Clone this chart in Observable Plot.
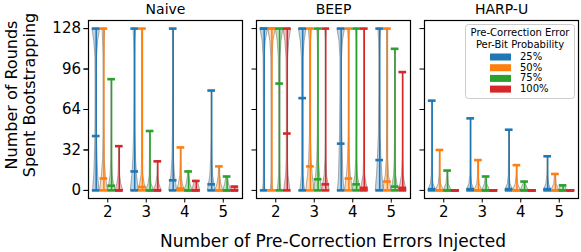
<!DOCTYPE html>
<html><head><meta charset="utf-8">
<script src="https://cdn.jsdelivr.net/npm/d3@7"></script>
<script src="https://cdn.jsdelivr.net/npm/@observablehq/plot@0.6"></script>
<style>
body{margin:0;background:#fff}
#chart{position:relative;width:581px;height:252px}
</style>
</head><body><div id="chart"></div>
<script>
const algorithms = ["Naive", "BEEP", "HARP-U"];
const errorCounts = [2, 3, 4, 5];
const probabilities = ["25%", "50%", "75%", "100%"];
const colors = ["#1f77b4", "#ff7f0e", "#2ca02c", "#d62728"];
const yTicks = [0, 32, 64, 96, 128];
const legendTitle = ["Pre-Correction Error", "Per-Bit Probability"];
const xLabel = "Number of Pre-Correction Errors Injected";
const yLabel = ["Number of Rounds", "Spent Bootstrapping"];

// rows: errors injected 2..5 ; columns: 25%, 50%, 75%, 100%
const naiveMax    = [[128, 128, 88, 35], [128, 128, 47, 23], [128, 34, 15, 7.5], [79, 19, 11, 3]];
const naiveMedian = [[43, 9.4, 3.7, 0], [15, 2.7, 0, 0], [8, 1.5, 0, 0], [4.8, 0, 0, 0]];
const beepMax     = [[128, 128, 128, 128], [128, 128, 128, 128], [128, 128, 128, 128], [128, 128, 112, 93.6]];
const beepMedian  = [[128, 128, 84.5, 45], [73, 19, 8.8, 4.8], [37, 9.4, 4.8, 2], [24, 7, 3, 2]];
const harpMax     = [[71, 32, 15.7, 0], [57, 24, 11, 0], [48, 20, 7, 0], [27, 13, 4, 0]];
const harpMedian  = [[1, 0, 0, 0], [1, 0, 0, 0], [1, 0, 0, 0], [1, 0, 0, 0]];

// violin relative half-width read at these round counts (last entry = width at the max)
const densityLevels = [0, 5, 12, 25, 45, 75, 105, 118, 128];
const naiveDensity = [
  [[0.8,0.7,0.5,0.35,0.2,0.15,0.2,0.5,1.0], [1.0,0.8,0.5,0.2,0.1,0.08,0.1,0.2,0.35], [1.0,0.6,0.25,0.1,0.05,0.04,0.04], [1.0,0.5,0.2,0.08,0.05]],
  [[1.0,0.85,0.6,0.35,0.15,0.1,0.1,0.15,0.3], [1.0,0.6,0.2,0.08,0.05,0.04,0.04,0.06,0.15], [1,0.4,0.1,0.05,0.03,0.03], [1,0.4,0.1,0.05]],
  [[1.0,0.8,0.45,0.2,0.08,0.05,0.05,0.06,0.1], [1,0.5,0.15,0.05,0.04], [1,0.5,0.15,0.08], [1,0.6,0.3]],
  [[1,0.7,0.35,0.15,0.06,0.04,0.04], [1,0.5,0.15,0.08], [1,0.5,0.2], [1,0.6]]
];
const beepDensity = [
  [[0.3,0.15,0.1,0.08,0.08,0.1,0.15,0.4,1.0], [0.3,0.15,0.1,0.08,0.08,0.1,0.15,0.4,1.0], [0.5,0.3,0.15,0.1,0.1,0.12,0.2,0.5,1.0], [0.8,0.6,0.3,0.15,0.12,0.12,0.2,0.5,1.0]],
  [[0.6,0.4,0.2,0.15,0.15,0.15,0.2,0.5,1.0], [1.0,0.9,0.6,0.3,0.1,0.08,0.08,0.15,0.4], [1.0,0.8,0.5,0.2,0.06,0.04,0.04,0.06,0.2], [1.0,0.7,0.3,0.1,0.04,0.03,0.03,0.05,0.15]],
  [[0.9,0.7,0.55,0.45,0.3,0.2,0.2,0.45,1.0], [1.0,0.8,0.5,0.2,0.06,0.04,0.04,0.06,0.2], [1.0,0.7,0.3,0.1,0.04,0.03,0.03,0.05,0.15], [1.0,0.6,0.2,0.06,0.03,0.02,0.02,0.04,0.12]],
  [[1.0,0.9,0.7,0.45,0.2,0.12,0.1,0.15,0.35], [1.0,0.8,0.4,0.15,0.05,0.04,0.04,0.05,0.15], [1,0.6,0.25,0.08,0.03,0.02,0.02,0.05], [1,0.6,0.2,0.06,0.02,0.02,0.04]]
];
const harpDensity = [
  [[1,0.35,0.1,0.04,0.02,0.03], [1,0.3,0.08,0.03,0.03], [1,0.3,0.08,0.05], [1]],
  [[1,0.35,0.1,0.04,0.02,0.03], [1,0.3,0.08,0.04], [1,0.3,0.1], [1]],
  [[1,0.35,0.1,0.04,0.02,0.03], [1,0.3,0.08,0.04], [1,0.3,0.15], [1]],
  [[1,0.35,0.1,0.04,0.03], [1,0.3,0.1,0.08], [1,0.5], [1]]
];

const sources = {
  "Naive": {max: naiveMax, median: naiveMedian, density: naiveDensity},
  "BEEP": {max: beepMax, median: beepMedian, density: beepDensity},
  "HARP-U": {max: harpMax, median: harpMedian, density: harpDensity}
};

const offsets = [-0.3, -0.1, 0.1, 0.3];
const halfW = 0.1;
const violins = [], bars = [], caps = [];
for (const alg of algorithms) {
  const s = sources[alg];
  errorCounts.forEach((e, i) => {
    probabilities.forEach((p, j) => {
      const pos = e + offsets[j];
      const mx = s.max[i][j], md = s.median[i][j], prof = s.density[i][j];
      const id = alg + e + p;
      let k = 0;
      for (; k < densityLevels.length && densityLevels[k] < mx; k++) {
        violins.push({alg, prob: p, id, y: densityLevels[k], x1: pos - halfW * prof[k], x2: pos + halfW * prof[k]});
      }
      const w = prof[Math.min(k, prof.length - 1)];
      violins.push({alg, prob: p, id, y: mx, x1: pos - halfW * w, x2: pos + halfW * w});
      bars.push({alg, prob: p, x: pos, y1: 0, y2: mx});
      for (const v of [0, mx, md]) caps.push({alg, prob: p, y: v, x1: pos - halfW, x2: pos + halfW});
    });
  });
}

const plot = Plot.plot({
  width: 581, height: 252,
  marginTop: 20, marginBottom: 54, marginLeft: 88, marginRight: 3,
  style: {fontFamily: "DejaVu Sans", color: "#000", background: "#fff"},
  fx: {domain: algorithms, padding: 0.086, label: null},
  x: {domain: [1.5, 5.5], label: null},
  y: {domain: [-6.4, 134.4], label: null},
  color: {domain: probabilities, range: colors},
  marks: [
    Plot.areaX(violins, {fx: "alg", y: "y", x1: "x1", x2: "x2", z: "id", fill: "prob", fillOpacity: 0.3, stroke: "#6e6e6e", strokeOpacity: 0.55, strokeWidth: 1, curve: "linear"}),
    Plot.ruleX(bars, {fx: "alg", x: "x", y1: "y1", y2: "y2", stroke: "prob", strokeWidth: 1.5}),
    Plot.ruleY(caps, {fx: "alg", y: "y", x1: "x1", x2: "x2", stroke: "prob", strokeWidth: 2.6}),
    Plot.frame({stroke: "#000", strokeWidth: 1.2}),
    Plot.axisFx({anchor: "top", label: null, tickSize: 0, fontSize: 14, tickPadding: 7}),
    Plot.axisX(errorCounts, {tickSize: 4.5, tickPadding: 3, fontSize: 15, label: null}),
    Plot.axisY(yTicks, {tickSize: 4.5, tickPadding: 3, fontSize: 15, label: null}),
    Plot.axisY(yTicks, {tickSize: 4.5, facetAnchor: null, fill: "none", label: null})
  ]
});
document.getElementById("chart").appendChild(plot);

const svg = d3.select(plot);
const lab = svg.append("g").attr("font-family", "DejaVu Sans").attr("fill", "#000");
lab.append("text").attr("x", 333).attr("y", 242).attr("text-anchor", "middle")
  .attr("dominant-baseline", "middle").attr("font-size", 17).text(xLabel);
yLabel.forEach((t, i) => {
  lab.append("text").attr("transform", `translate(${12 + i * 18},95) rotate(-90)`)
    .attr("text-anchor", "middle").attr("dominant-baseline", "middle").attr("font-size", 16).text(t);
});

// legend
const lg = svg.append("g").attr("font-family", "DejaVu Sans").attr("font-size", 10).attr("fill", "#000");
lg.append("rect").attr("x", 465.5).attr("y", 24.5).attr("width", 109).attr("height", 74).attr("rx", 3)
  .attr("fill", "#fff").attr("fill-opacity", 0.8).attr("stroke", "#cccccc");
legendTitle.forEach((t, i) => {
  lg.append("text").attr("x", 520).attr("y", 33 + i * 12).attr("text-anchor", "middle")
    .attr("dominant-baseline", "middle").text(t);
});
probabilities.forEach((p, i) => {
  const cy = 57 + i * 10.7;
  lg.append("rect").attr("x", 490).attr("y", cy - 3.5).attr("width", 21).attr("height", 7).attr("fill", colors[i]);
  lg.append("text").attr("x", 520).attr("y", cy).attr("text-anchor", "start")
    .attr("dominant-baseline", "middle").text(p);
});
</script>
</body></html>
